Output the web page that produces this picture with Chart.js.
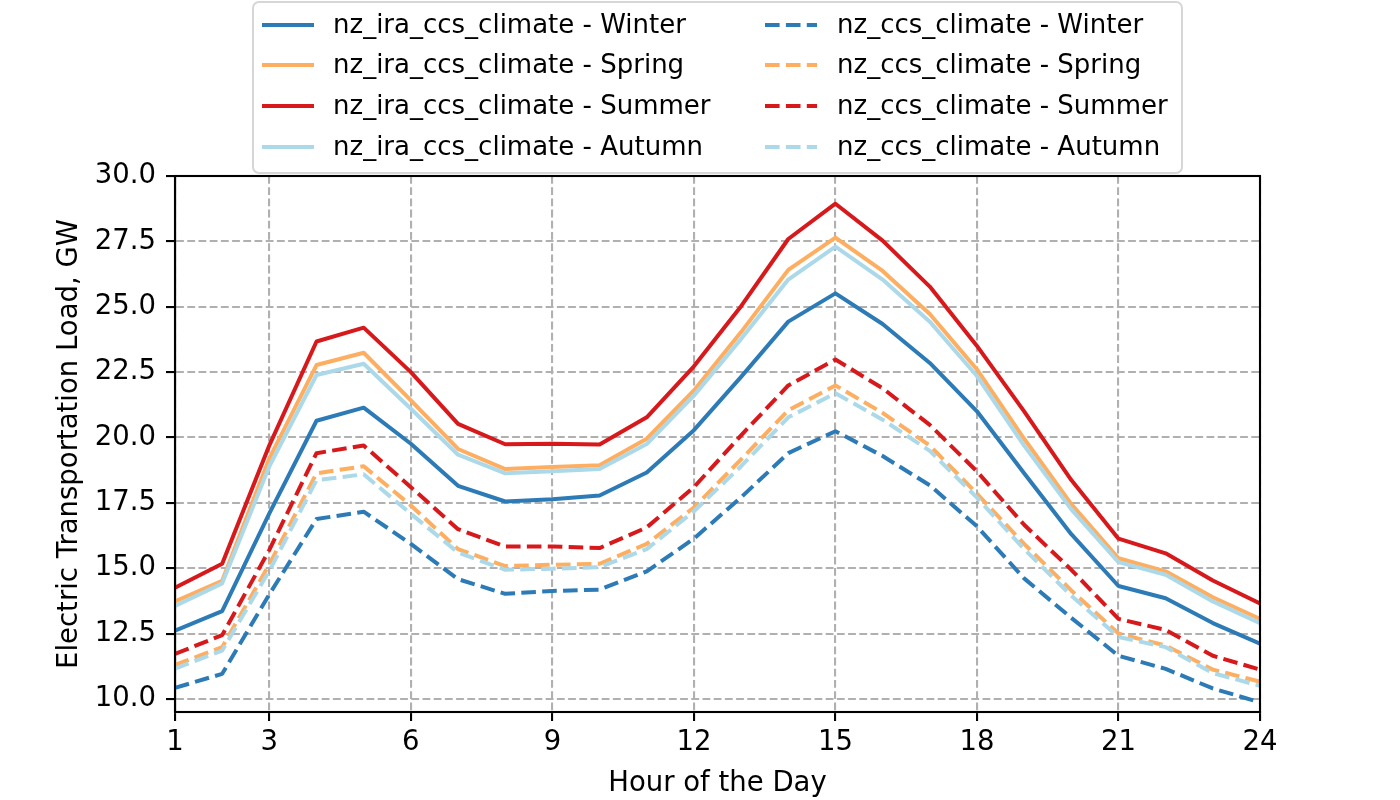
<!DOCTYPE html>
<html>
<head>
<meta charset="utf-8">
<title>Electric Transportation Load</title>
<script src="https://cdn.jsdelivr.net/npm/chart.js@4.4.1/dist/chart.umd.min.js"></script>
<style>
  html, body { margin: 0; padding: 0; background: #fff; }
  #wrap { width: 1400px; height: 800px; }
</style>
</head>
<body>
<div id="wrap"><canvas id="loadChart" width="1400" height="800"></canvas></div>
<script>
// Hour of the day
const hours = [1, 2, 3, 4, 5, 6, 7, 8, 9, 10, 11, 12, 13, 14, 15, 16, 17, 18, 19, 20, 21, 22, 23, 24];
const xTicks = [1, 3, 6, 9, 12, 15, 18, 21, 24];
const yTicks = [10, 12.5, 15, 17.5, 20, 22.5, 25, 27.5, 30];

// nz_ira_ccs_climate (GW)
const iraWinter = [12.61, 13.36, 17.1, 20.64, 21.14, 19.76, 18.15, 17.55, 17.64, 17.78, 18.66, 20.28, 22.32, 24.43, 25.51, 24.34, 22.85, 21.0, 18.63, 16.3, 14.32, 13.85, 12.9, 12.11];
const iraSpring = [13.73, 14.52, 19.2, 22.77, 23.24, 21.42, 19.56, 18.79, 18.87, 18.94, 19.95, 21.8, 24.03, 26.41, 27.64, 26.37, 24.72, 22.6, 19.95, 17.45, 15.38, 14.88, 13.89, 13.06];
const iraSummer = [14.25, 15.17, 19.7, 23.67, 24.2, 22.5, 20.52, 19.74, 19.76, 19.73, 20.77, 22.72, 25.02, 27.59, 28.94, 27.53, 25.77, 23.5, 21.0, 18.37, 16.13, 15.57, 14.53, 13.65];
const iraAutumn = [13.56, 14.42, 18.9, 22.39, 22.82, 21.1, 19.34, 18.63, 18.71, 18.79, 19.75, 21.6, 23.77, 26.04, 27.3, 26.04, 24.43, 22.35, 19.69, 17.25, 15.23, 14.75, 13.73, 12.9];

// nz_ccs_climate (GW)
const ccsWinter = [10.42, 10.96, 14.0, 16.88, 17.16, 15.93, 14.58, 14.02, 14.13, 14.18, 14.88, 16.13, 17.71, 19.4, 20.24, 19.29, 18.17, 16.6, 14.61, 13.1, 11.65, 11.15, 10.4, 9.87];
const ccsSpring = [11.3, 11.98, 15.15, 18.63, 18.9, 17.4, 15.73, 15.08, 15.13, 15.17, 15.93, 17.32, 19.16, 21.04, 21.99, 20.94, 19.69, 17.85, 15.93, 14.15, 12.5, 12.04, 11.12, 10.66];
const ccsSummer = [11.72, 12.44, 15.7, 19.4, 19.69, 18.1, 16.49, 15.83, 15.83, 15.77, 16.56, 18.1, 20.08, 21.99, 22.98, 21.88, 20.48, 18.7, 16.66, 14.94, 13.06, 12.64, 11.65, 11.12];
const ccsAutumn = [11.16, 11.85, 14.9, 18.37, 18.59, 17.08, 15.6, 14.94, 14.98, 15.04, 15.73, 17.18, 18.9, 20.77, 21.69, 20.68, 19.49, 17.7, 15.73, 13.95, 12.37, 11.98, 10.99, 10.5];

const colors = {
    Winter: '#2c7bb6',
    Spring: '#fdae61',
    Summer: '#d7191c',
    Autumn: '#abd9e9'
};
const lineDash = [14.6, 6.3];

function makeSet(label, values, color, dashed, idx) {
    return {
        label: label,
        data: hours.map((h, i) => ({ x: h, y: values[i] })),
        borderColor: color,
        backgroundColor: color,
        borderWidth: 4,
        borderDash: dashed ? lineDash : [],
        borderJoinStyle: 'round',
        pointRadius: 0,
        pointHoverRadius: 0,
        tension: 0,
        fill: false,
        order: 10 - idx
    };
}

const datasets = [
    makeSet('nz_ira_ccs_climate - Winter', iraWinter, colors.Winter, false, 0),
    makeSet('nz_ira_ccs_climate - Spring', iraSpring, colors.Spring, false, 1),
    makeSet('nz_ira_ccs_climate - Summer', iraSummer, colors.Summer, false, 2),
    makeSet('nz_ira_ccs_climate - Autumn', iraAutumn, colors.Autumn, false, 3),
    makeSet('nz_ccs_climate - Winter', ccsWinter, colors.Winter, true, 4),
    makeSet('nz_ccs_climate - Spring', ccsSpring, colors.Spring, true, 5),
    makeSet('nz_ccs_climate - Summer', ccsSummer, colors.Summer, true, 6),
    makeSet('nz_ccs_climate - Autumn', ccsAutumn, colors.Autumn, true, 7)
];

// box around the plot, like matplotlib spines
const framePlugin = {
    id: 'frame',
    afterDatasetsDraw(chart) {
        const a = chart.chartArea;
        const ctx = chart.ctx;
        ctx.save();
        ctx.strokeStyle = '#000';
        ctx.lineWidth = 2.1;
        ctx.strokeRect(a.left, a.top, a.right - a.left, a.bottom - a.top);
        ctx.restore();
    }
};

// two-column legend, filled column by column
const legendPlugin = {
    id: 'twoColLegend',
    afterDraw(chart) {
        const ctx = chart.ctx;
        const box = { x: 253, y: 2, w: 929, h: 171 };
        ctx.save();
        ctx.fillStyle = 'rgba(255,255,255,0.8)';
        ctx.strokeStyle = '#d6d6d6';
        ctx.lineWidth = 2;
        ctx.beginPath();
        ctx.roundRect(box.x, box.y, box.w, box.h, 6);
        ctx.fill();
        ctx.stroke();

        const cols = [{ line: 262, text: 333 }, { line: 765, text: 837 }];
        const rowY = [25, 65, 106, 147];
        ctx.font = '26px "DejaVu Sans"';
        ctx.textBaseline = 'middle';
        ctx.textAlign = 'left';
        chart.data.datasets.forEach((ds, i) => {
            const col = cols[Math.floor(i / 4)];
            const y = rowY[i % 4];
            ctx.strokeStyle = ds.borderColor;
            ctx.lineWidth = 4;
            ctx.setLineDash(ds.borderDash);
            ctx.beginPath();
            ctx.moveTo(col.line, y);
            ctx.lineTo(col.line + 52, y);
            ctx.stroke();
            ctx.setLineDash([]);
            ctx.fillStyle = '#000';
            ctx.fillText(ds.label, col.text, y + 1);
        });
        ctx.restore();
    }
};

Chart.defaults.font.family = '"DejaVu Sans", sans-serif';
Chart.defaults.font.size = 27.5;
Chart.defaults.color = '#000';

const ctx = document.getElementById('loadChart').getContext('2d');
new Chart(ctx, {
    type: 'line',
    data: { datasets: datasets },
    options: {
        responsive: false,
        animation: false,
        devicePixelRatio: 1,
        layout: { padding: { top: 176, right: 140, left: 0, bottom: 0 } },
        plugins: {
            legend: { display: false },
            tooltip: { enabled: false }
        },
        scales: {
            x: {
                type: 'linear',
                min: 1,
                max: 24,
                afterBuildTicks: scale => { scale.ticks = xTicks.map(v => ({ value: v })); },
                afterFit: scale => { scale.height = 88; },
                ticks: { padding: 5, autoSkip: false, maxRotation: 0, callback: v => String(v) },
                grid: { color: '#b0b0b0', lineWidth: 2.1, tickLength: 9, tickColor: '#000', tickWidth: 2.1, tickBorderDash: [] },
                border: { display: true, color: '#000', width: 2.1, dash: [7.8, 3.4] },
                title: { display: true, text: 'Hour of the Day', padding: { top: 0, bottom: 0 } }
            },
            y: {
                min: 9.5,
                max: 30,
                afterBuildTicks: scale => { scale.ticks = yTicks.map(v => ({ value: v })); },
                afterFit: scale => { scale.width = 175; },
                ticks: { padding: 10, autoSkip: false, callback: v => Number(v).toFixed(1) },
                grid: { color: '#b0b0b0', lineWidth: 2.1, tickLength: 9, tickColor: '#000', tickWidth: 2.1, tickBorderDash: [] },
                border: { display: true, color: '#000', width: 2.1, dash: [7.8, 3.4] },
                title: { display: true, text: 'Electric Transportation Load, GW', padding: { top: 53, bottom: 0 } }
            }
        }
    },
    plugins: [framePlugin, legendPlugin]
});
</script>
</body>
</html>
